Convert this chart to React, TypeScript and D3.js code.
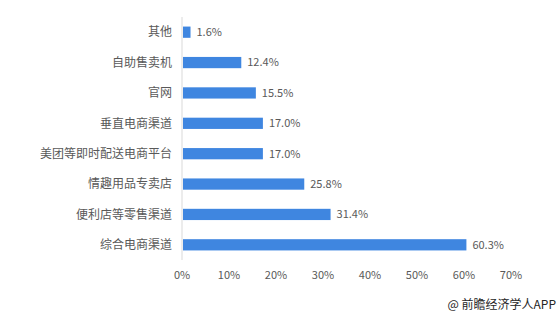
import React from "react";
import * as d3 from "d3";

const categories = ["其他", "自助售卖机", "官网", "垂直电商渠道", "美团等即时配送电商平台", "情趣用品专卖店", "便利店等零售渠道", "综合电商渠道"];
const values = [1.6, 12.4, 15.5, 17.0, 17.0, 25.8, 31.4, 60.3];
const ticks = [0, 10, 20, 30, 40, 50, 60, 70];
const source = "@ 前瞻经济学人APP";

export default function App() {
  const W = 560, H = 318;
  const x = d3.scaleLinear().domain([0, 70]).range([182, 511]);
  const y = d3.scaleBand().domain(categories).range([17, 260]).paddingInner(0.63).paddingOuter(0.315);
  const font = "'Microsoft YaHei', 'Noto Sans CJK SC', sans-serif";
  return (
    <svg width={W} height={H} style={{ position: "absolute", left: 0, top: 0, background: "#fff" }} fontFamily={font}>
      <line x1={x(0)} x2={x(0)} y1={17} y2={260} stroke="#d9d9d9" strokeWidth={1} />
      {categories.map((c, i) => (
        <g key={c}>
          <rect x={x(0) + 1} y={y(c)!} width={x(values[i]) - x(0)} height={y.bandwidth()} fill="#3F86E0" />
          <text x={172} y={y(c)! + y.bandwidth() / 2} dy="0.35em" textAnchor="end" fontSize={12} fill="#595959">{c}</text>
          <text x={x(values[i]) + 7} y={y(c)! + y.bandwidth() / 2} dy="0.35em" fontSize={11} fill="#595959">{values[i].toFixed(1)}%</text>
        </g>
      ))}
      {ticks.map(t => (
        <text key={t} x={x(t)} y={275} dy="0.35em" textAnchor="middle" fontSize={11} fill="#595959">{t}%</text>
      ))}
      <text x={556} y={305} dy="0.35em" textAnchor="end" fontSize={12} fill="#262626">{source}</text>
    </svg>
  );
}
